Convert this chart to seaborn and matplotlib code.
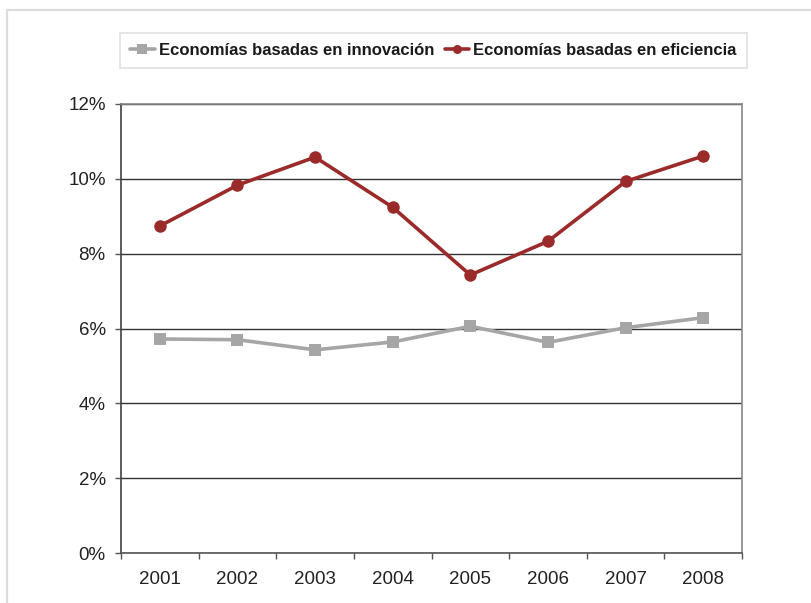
import pandas as pd
import matplotlib.pyplot as plt
import seaborn as sns
from matplotlib.lines import Line2D
from matplotlib.ticker import FuncFormatter, MultipleLocator

# Datos
anios = [2001, 2002, 2003, 2004, 2005, 2006, 2007, 2008]
innovacion = [5.72, 5.70, 5.43, 5.64, 6.06, 5.63, 6.02, 6.29]
eficiencia = [8.74, 9.83, 10.58, 9.24, 7.43, 8.33, 9.93, 10.61]
series = ['Economías basadas en innovación', 'Economías basadas en eficiencia']

df = pd.DataFrame({
    'anio': anios * 2,
    'valor': innovacion + eficiencia,
    'serie': [series[0]] * len(anios) + [series[1]] * len(anios),
})

sns.set_style('white')
plt.rcParams['font.family'] = ['Liberation Sans', 'DejaVu Sans']

gris = '#a6a6a6'
rojo = '#9b2a2a'

fig = plt.figure(figsize=(8.11, 6.03), dpi=100)
ax = fig.add_axes([121 / 811, 1 - 553 / 603, 621 / 811, 449 / 603])

sns.lineplot(data=df, x='anio', y='valor', hue='serie', style='serie',
             palette={series[0]: gris, series[1]: rojo},
             markers={series[0]: 's', series[1]: 'o'}, dashes=False,
             linewidth=2.6, markeredgewidth=0, ax=ax)

for line in ax.lines:
    if line.get_color() == rojo:
        line.set_markersize(9)
    else:
        line.set_markersize(8)

# Ejes
ax.set_xlim(2000.5, 2008.5)
ax.set_ylim(0, 12)
ax.yaxis.set_major_locator(MultipleLocator(2))
ax.yaxis.set_major_formatter(FuncFormatter(lambda v, p: f'{v:.0f}%'))
ax.set_xticks(anios)
ax.set_xticks([a + 0.5 for a in [2000] + anios], minor=True)
ax.tick_params(axis='x', which='major', length=0, pad=13, labelsize=13.5, labelcolor='#222222')
ax.tick_params(axis='x', which='minor', length=4, width=1, color='#555555', direction='out', bottom=True)
ax.tick_params(axis='y', length=4, width=1, color='#555555', direction='out', left=True,
               pad=7, labelsize=13.5, labelcolor='#222222')
ax.set_xlabel('')
ax.set_ylabel('')
ax.grid(axis='y', color='#333333', linewidth=1)
ax.set_axisbelow(True)

for lado in ['top', 'right']:
    ax.spines[lado].set_color('#888888')
    ax.spines[lado].set_linewidth(1.2)
ax.spines['left'].set_color('#404040')
ax.spines['bottom'].set_color('#555555')
for lado in ['left', 'bottom']:
    ax.spines[lado].set_linewidth(1.2)

# Leyenda
handles, labels = ax.get_legend_handles_labels()
ax.get_legend().remove()
for h in handles:
    h.set_markersize(6.5)
    h.set_linewidth(2.6)
leg = fig.legend(handles, labels, loc='center', ncol=2,
                 bbox_to_anchor=(433.5 / 811, 1 - 50.3 / 603),
                 prop={'weight': 'bold', 'size': 12}, frameon=True, fancybox=False,
                 handlelength=1.45, handletextpad=0.25, columnspacing=0.65,
                 borderpad=0.6)
leg.get_frame().set_edgecolor('#d9d9d9')
leg.get_frame().set_linewidth(1.2)
for t in leg.get_texts():
    t.set_color('#1a1a1a')

# Borde de la figura
fig.add_artist(Line2D([7 / 811, 1], [1 - 10 / 603, 1 - 10 / 603], color='#dcdcdc', linewidth=1.6))
fig.add_artist(Line2D([7 / 811, 7 / 811], [0, 1 - 10 / 603], color='#dcdcdc', linewidth=1.6))

fig.savefig('out.png', dpi=100)
